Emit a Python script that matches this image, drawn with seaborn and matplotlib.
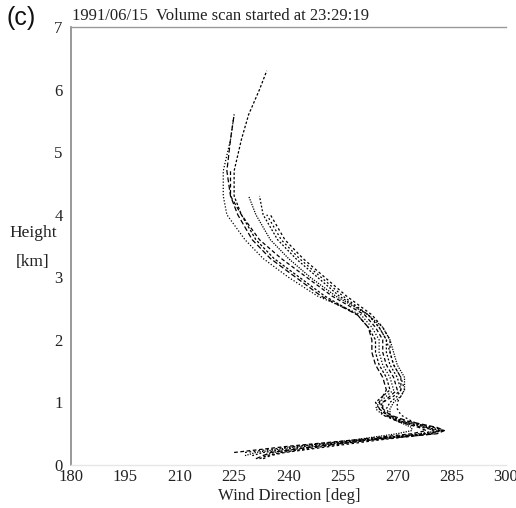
import numpy as np
import pandas as pd
import matplotlib
matplotlib.use("Agg")
import matplotlib.pyplot as plt
import seaborn as sns

# height grid [km]
heights = [0.10, 0.15, 0.20, 0.30, 0.40, 0.50, 0.55, 0.60, 0.70, 0.80, 0.90, 1.00,
           1.10, 1.20, 1.40, 1.60, 1.80, 2.00, 2.20, 2.40, 2.70, 3.00, 3.30, 3.60,
           4.00, 4.30, 4.70, 5.20, 5.60, 6.00, 6.30]
N = None
prof_a = [232, 234, 238, 250, 262, 278, 283, 280, 272, 267, 265, 264, 266, 268, 267, 265,
          264, 264, 262, 259, 250, 243, 236, 231, 227, 225, 225, 227, 229, 232, 234]
prof_b = [N, 233, 236, 247, 260, 276, 282, 279, 271, 266, 264, 265, 267, 269, 268, 266,
          265, 265, 263, 260, 248, 240, 233, 228, 223, 222, 222, 224, 225, N, N]
prof_c = [N, N, 225, 240, 258, 274, 278, 276, 270, 267, 266, 266, 268, 270, 269, 267,
          266, 266, 264, 261, 252, 245, 238, 232, 227, 224, 224, N, N, N, N]
prof_d = [N, 230, 233, 245, 261, 279, 282, 278, 271, 268, 267, 268, 270, 271, 270, 268,
          267, 267, 265, 262, 254, 248, 242, 237, 233, 232, N, N, N, N, N]
prof_e = [233, 235, 239, 252, 265, 280, 281, 277, 270, 266, 265, 266, 269, 271, 271, 269,
          268, 268, 266, 263, 256, 250, 244, 239, 235, N, N, N, N, N, N]
prof_f = [N, 228, 231, 243, 258, 270, 274, 274, 270, 268, 268, 269, 271, 272, 272, 270,
          269, 268, 266, 262, 253, 246, 240, 235, 231, 229, N, N, N, N, N]
prof_g = [231, N, 235, 248, 263, 281, 283, 281, 273, 268, 266, 265, 266, 267, 266, 264,
          263, 263, 262, 259, 249, 242, 235, 230, 226, 224, 223, 224, 225, N, N]
prof_h = [N, N, 228, 242, 260, 277, 280, 278, 274, 271, 270, 270, 271, 272, 271, 269,
          268, 267, 265, 262, 255, 249, 243, 238, 234, N, N, N, N, N, N]

profiles = {"A": prof_a, "B": prof_b, "C": prof_c, "D": prof_d,
            "E": prof_e, "F": prof_f, "G": prof_g, "H": prof_h}

x_ticks = [180, 195, 210, 225, 240, 255, 270, 285, 300]
y_ticks = [0, 1, 2, 3, 4, 5, 6, 7]

rows = []
for name, vals in profiles.items():
    for i, (h, d) in enumerate(zip(heights, vals)):
        if d is not None:
            rows.append({"profile": name, "order": i, "height": h, "direction": d})
df = pd.DataFrame(rows)

sns.set_style("white")
serif = ["Liberation Serif", "DejaVu Serif"]
plt.rcParams["font.family"] = serif

fig = plt.figure(figsize=(5.16, 5.08), dpi=100)
ax = fig.add_axes([71 / 516, 1 - 465 / 508, 435 / 516, 438 / 508])

dash_list = [(2, 1.5), (1, 1.5), (3, 2), (1.5, 1.5), (2, 2), (1, 1), (4, 2), (1.5, 2)]
sns.lineplot(data=df, x="direction", y="height", units="profile", style="profile",
             dashes=dash_list, estimator=None, sort=False, color="black",
             linewidth=0.9, legend=False, ax=ax)

ax.set_xlim(180, 300)
ax.set_ylim(0, 7)
ax.set_xticks(x_ticks)
ax.set_xticklabels([str(t) for t in x_ticks])
ax.set_yticks(y_ticks)
ax.set_yticklabels([str(t) for t in y_ticks])
ax.set_xlabel("")
ax.set_ylabel("")
for lab in ax.get_xticklabels() + ax.get_yticklabels():
    lab.set_fontsize(12)
    lab.set_color("#222222")
ax.tick_params(axis="x", direction="out", length=3, width=0.8, color="#999999", pad=0)
ax.tick_params(axis="y", direction="out", length=3, width=0.8, color="#999999", pad=3)

ax.spines["right"].set_visible(False)
ax.spines["left"].set_color("#888888")
ax.spines["left"].set_linewidth(1.2)
ax.spines["top"].set_color("#999999")
ax.spines["top"].set_linewidth(1.0)
ax.spines["bottom"].set_color("#e6e6e6")
ax.spines["bottom"].set_linewidth(1.0)

fig.text(72 / 516, 1 - 16 / 508, "1991/06/15  Volume scan started at 23:29:19",
         fontsize=12, ha="left", va="center", color="#222222")
fig.text(7 / 516, 1 - 18 / 508, "(c)", fontsize=18, ha="left", va="center",
         family=["Liberation Sans", "DejaVu Sans"], color="#111111")
fig.text(33 / 516, 1 - 233 / 508, "Height", fontsize=12.5, ha="center", va="center",
         color="#222222")
fig.text(33 / 516, 1 - 262 / 508, "[km]", fontsize=12.5, ha="center", va="center",
         color="#222222")
fig.text(289 / 516, 1 - 496 / 508, "Wind Direction [deg]", fontsize=12, ha="center",
         va="center", color="#222222")

fig.savefig("out.png", dpi=100)
